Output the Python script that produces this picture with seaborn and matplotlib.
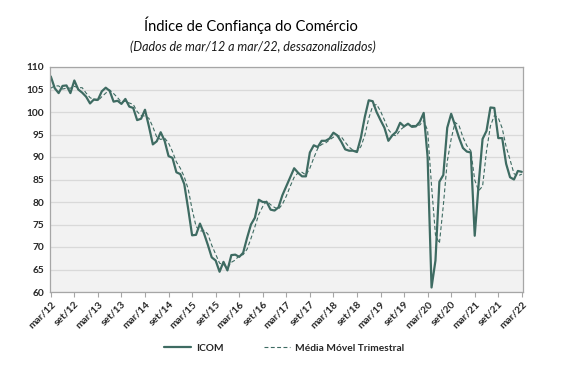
import matplotlib
matplotlib.use("Agg")
import matplotlib.pyplot as plt
import seaborn as sns
from matplotlib.lines import Line2D

# ---------------- data ----------------
tick_labels = ["mar/12", "set/12", "mar/13", "set/13", "mar/14", "set/14", "mar/15",
               "set/15", "mar/16", "set/16", "mar/17", "set/17", "mar/18", "set/18",
               "mar/19", "set/19", "mar/20", "set/20", "mar/21", "set/21", "mar/22"]

icom = [107.9, 105.3, 104.2, 105.8, 105.9, 104.2, 107.0, 105.0, 104.3, 103.4, 101.9, 102.8,
        102.7, 104.6, 105.4, 104.7, 102.3, 102.5, 101.8, 102.9, 101.2, 100.9, 98.2, 98.5,
        100.5, 96.8, 92.8, 93.5, 95.5, 93.6, 90.2, 89.8, 86.6, 86.2, 84.0, 78.5,
        72.6, 72.7, 75.2, 73.1, 70.5, 67.7, 67.0, 64.5, 66.7, 64.8, 68.2, 68.3,
        67.8, 68.7, 72.0, 75.0, 76.5, 80.5, 80.0, 80.0, 78.3, 78.1, 78.8, 81.5,
        83.5, 85.5, 87.5, 86.5, 85.7, 85.7, 91.0, 92.6, 92.2, 93.6, 93.6, 94.1,
        95.4, 94.8, 93.4, 91.7, 91.4, 91.4, 91.1, 94.3, 98.9, 102.6, 102.4, 100.0,
        98.2, 96.5, 93.6, 94.8, 95.6, 97.6, 96.8, 97.4, 96.7, 96.8, 97.8, 99.8,
        90.0, 61.0, 67.0, 84.5, 86.0, 96.5, 99.6, 97.0, 94.3, 92.0, 91.2, 91.0,
        72.5, 84.0, 94.0, 95.8, 101.0, 100.9, 94.2, 94.2, 88.5, 85.5, 85.0, 86.9,
        86.7]

media_movel = [105.3, 105.8, 105.8, 105.1, 105.3, 105.3, 105.7, 105.4, 105.4, 104.2, 103.2, 102.7,
               102.5, 103.4, 104.2, 104.9, 104.1, 103.2, 102.2, 102.4, 102.0, 101.7, 100.1, 99.2,
               99.1, 98.6, 96.7, 94.4, 93.9, 94.2, 93.1, 91.2, 88.9, 87.5, 85.6, 82.9,
               78.4, 74.6, 73.5, 73.7, 72.9, 70.4, 68.4, 66.4, 66.1, 65.3, 66.6, 67.1,
               68.1, 68.3, 69.5, 71.9, 74.5, 77.3, 79.0, 80.2, 79.4, 78.8, 78.4, 79.5,
               81.3, 83.5, 85.5, 86.5, 86.6, 86.0, 87.5, 89.8, 91.9, 92.8, 93.1, 93.8,
               94.4, 94.8, 94.5, 93.3, 92.2, 91.5, 91.3, 92.3, 94.8, 98.6, 101.3, 101.7,
               100.2, 98.2, 96.1, 95.0, 94.7, 96.0, 96.7, 97.3, 97.0, 97.0, 97.1, 98.1,
               95.9, 83.6, 72.7, 70.8, 79.2, 89.0, 94.0, 97.7, 97.0, 94.4, 92.5, 91.4,
               84.9, 82.5, 83.5, 91.3, 96.9, 99.2, 98.7, 96.4, 92.3, 89.4, 86.3, 85.8,
               86.2]

months = list(range(len(icom)))
tick_pos = list(range(0, len(icom), 6))

# ---------------- style ----------------
line_color = "#3e6b62"
sns.set_style("whitegrid", rc={
    "axes.facecolor": "#f2f2f2",
    "grid.color": "#d9d9d9",
    "axes.edgecolor": "#a6a6a6",
})
plt.rcParams['font.family'] = ['Lato', 'DejaVu Sans']

fig = plt.figure(figsize=(5.72, 3.84), dpi=100)
ax = fig.add_axes([50 / 572, 1 - 292 / 384, 473 / 572, 225 / 384])

sns.lineplot(x=months, y=icom, ax=ax, color=line_color, linewidth=1.6, legend=False)
sns.lineplot(x=months, y=media_movel, ax=ax, color=line_color, linewidth=0.8,
             linestyle=(0, (3.5, 2.2)), legend=False)

ax.set_xlim(-0.2, 120.3)
ax.set_ylim(60, 110)
ax.set_yticks(range(60, 111, 5))
ax.set_xticks(tick_pos)
ax.set_xticklabels(tick_labels, rotation=45, ha="right", va="top", rotation_mode="anchor")
ax.grid(axis="x", visible=False)
ax.grid(axis="y", linewidth=0.9)
ax.set_xlabel("")
ax.set_ylabel("")

for lab in ax.get_yticklabels() + ax.get_xticklabels():
    lab.set_fontweight("bold")
    lab.set_fontsize(7.3)
    lab.set_color("#262626")

ax.tick_params(axis="x", length=3.5, width=0.8, color="#a6a6a6", pad=2, bottom=True)
ax.tick_params(axis="y", length=0, pad=4)
for side in ["left", "right", "top", "bottom"]:
    ax.spines[side].set_visible(True)
    ax.spines[side].set_color("#a6a6a6")
    ax.spines[side].set_linewidth(0.9)

fig.text(251 / 572, 1 - 25 / 384, "Índice de Confiança do Comércio",
         ha="center", va="center", fontsize=10.5, color="#000000")
fig.text(253 / 572, 1 - 47 / 384, "(Dados de mar/12 a mar/22, dessazonalizados)",
         ha="center", va="center", fontsize=9, style="italic", color="#1a1a1a")

handles = [Line2D([], [], color=line_color, linewidth=1.6),
           Line2D([], [], color=line_color, linewidth=0.8, linestyle=(0, (3.5, 2.2)))]
fig.legend(handles, ["ICOM", "Média Móvel Trimestral"], loc="center",
           bbox_to_anchor=(0.497, 1 - 348 / 384), ncol=2, frameon=False,
           handlelength=2.6, columnspacing=4.0, handletextpad=0.5,
           prop={"weight": "bold", "size": 7.3})

fig.savefig("out.png", dpi=100, facecolor="white")
